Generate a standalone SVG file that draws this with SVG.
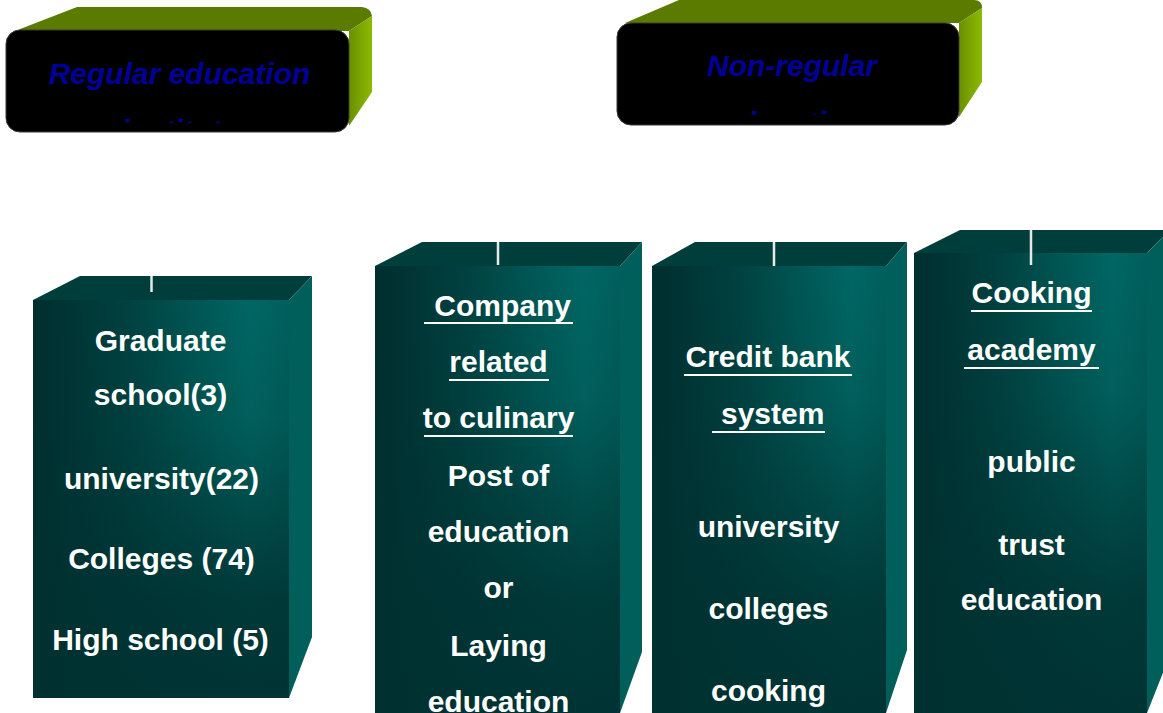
<svg xmlns="http://www.w3.org/2000/svg" width="1163" height="713" viewBox="0 0 1163 713">
  <style>
    .hdr { font-family: "Liberation Sans", Arial, sans-serif; font-size: 30px; font-weight: bold; font-style: italic; fill: #000099; text-anchor: middle; }
    .col { font-family: "Liberation Sans", Arial, sans-serif; font-size: 30px; font-weight: bold; fill: #ffffff; text-anchor: middle; }
    .ul { stroke: #ffffff; stroke-width: 2; }
    .tick { stroke: #e8e8e8; stroke-width: 2.5; }
    .blk { fill: #000000; stroke: #3a3a3a; stroke-width: 1; }
    .olive { fill: #5b7a00; }
    .ctop { fill: #003e3c; }
    .cside { fill: #005e5b; }
    .cfront { fill: url(#frontH); }
    .cshade { fill: url(#frontV); }
  </style>
  <defs>
    <linearGradient id="sideGrad" x1="0" y1="0" x2="1" y2="0">
      <stop offset="0" stop-color="#6a8f00"/>
      <stop offset="1" stop-color="#8cbb00"/>
    </linearGradient>
    <linearGradient id="frontH" x1="0" y1="0" x2="1" y2="0">
      <stop offset="0" stop-color="#002e2e"/>
      <stop offset="0.35" stop-color="#00403f"/>
      <stop offset="0.85" stop-color="#006764"/>
      <stop offset="1" stop-color="#005f5c"/>
    </linearGradient>
    <linearGradient id="frontV" x1="0" y1="0" x2="0" y2="1">
      <stop offset="0" stop-color="#003131" stop-opacity="0"/>
      <stop offset="0.3" stop-color="#003131" stop-opacity="0.15"/>
      <stop offset="0.75" stop-color="#003131" stop-opacity="0.85"/>
      <stop offset="1" stop-color="#003131" stop-opacity="0.95"/>
    </linearGradient>
    <clipPath id="clipA"><rect x="0" y="0" width="400" height="123"/></clipPath>
    <clipPath id="clipB"><rect x="600" y="0" width="400" height="114.5"/></clipPath>
  </defs>
  <rect x="0" y="0" width="1163" height="713" fill="#ffffff"/>

  <g id="regular">
    <path class="olive" d="M15,31 L77,7 L362,7 Q371,8 372,16 L349,31 Z"/>
    <path fill="url(#sideGrad)" d="M349,31 L372,16 L372,92 L349,126 Z"/>
    <rect class="blk" x="6" y="30" width="343" height="102" rx="14"/>
    <text class="hdr" x="179.5" y="84">Regular education</text>
    <text class="hdr" x="179.5" y="141" clip-path="url(#clipA)">institute</text>
  </g>

  <g id="nonregular">
    <path class="olive" d="M625,23 L679,0 L974,0 Q982,0 982,8 L959,23 Z"/>
    <path fill="url(#sideGrad)" d="M959,23 L982,8 L982,82 L959,117 Z"/>
    <rect class="blk" x="617" y="23" width="342" height="102" rx="14"/>
    <text class="hdr" x="792" y="76">Non-regular</text>
    <text class="hdr" x="792" y="132.5" clip-path="url(#clipB)">education</text>
  </g>

  <g id="regular-list">
    <polygon class="ctop" points="33,300 80,276 312,276 289,300"/>
    <polygon class="cside" points="289,300 312,276 312,637 289,698"/>
    <rect class="cfront" x="33" y="300" width="256" height="398"/>
    <rect class="cshade" x="33" y="300" width="256" height="398"/>
    <text class="col" x="160.5" y="351">Graduate</text>
    <text class="col" x="160.5" y="405">school(3)</text>
    <text class="col" x="161.5" y="489">university(22)</text>
    <text class="col" x="161.5" y="569">Colleges (74)</text>
    <text class="col" x="160.5" y="650">High school (5)</text>
  </g>

  <g id="company">
    <polygon class="ctop" points="375,266 422,242 642,242 620,266"/>
    <polygon class="cside" points="620,266 642,242 642,652 620,713"/>
    <rect class="cfront" x="375" y="266" width="245" height="447"/>
    <rect class="cshade" x="375" y="266" width="245" height="447"/>
    <text class="col" x="498.5" y="316" xml:space="preserve"> Company</text>
    <line class="ul" x1="424" y1="323" x2="573" y2="323"/>
    <text class="col" x="498.5" y="372">related</text>
    <line class="ul" x1="449" y1="380" x2="549" y2="380"/>
    <text class="col" x="498.5" y="428">to culinary</text>
    <line class="ul" x1="424" y1="436" x2="573" y2="436"/>
    <text class="col" x="498.5" y="486">Post of</text>
    <text class="col" x="498.5" y="542">education</text>
    <text class="col" x="498.5" y="598">or</text>
    <text class="col" x="498.5" y="656">Laying</text>
    <text class="col" x="498.5" y="712">education</text>
  </g>

  <g id="creditbank">
    <polygon class="ctop" points="652,266 695,242 907,242 886,266"/>
    <polygon class="cside" points="886,266 907,242 907,650 886,713"/>
    <rect class="cfront" x="652" y="266" width="234" height="447"/>
    <rect class="cshade" x="652" y="266" width="234" height="447"/>
    <text class="col" x="768" y="367">Credit bank</text>
    <line class="ul" x1="684" y1="375" x2="852" y2="375"/>
    <text class="col" x="768.5" y="424" xml:space="preserve"> system</text>
    <line class="ul" x1="712" y1="432" x2="825" y2="432"/>
    <text class="col" x="768.5" y="537">university</text>
    <text class="col" x="768.5" y="619">colleges</text>
    <text class="col" x="768.5" y="701">cooking</text>
  </g>

  <g id="academy">
    <polygon class="ctop" points="914,253 960,230 1170,230 1147,253"/>
    <polygon class="cside" points="1147,253 1170,230 1170,655 1147,713"/>
    <rect class="cfront" x="914" y="253" width="233" height="460"/>
    <rect class="cshade" x="914" y="253" width="233" height="460"/>
    <text class="col" x="1031.5" y="303">Cooking</text>
    <line class="ul" x1="971" y1="311" x2="1092" y2="311"/>
    <text class="col" x="1031.5" y="360">academy</text>
    <line class="ul" x1="964" y1="368" x2="1099" y2="368"/>
    <text class="col" x="1031.5" y="472">public</text>
    <text class="col" x="1031.5" y="555">trust</text>
    <text class="col" x="1031.5" y="610">education</text>
  </g>

  <g id="connectors">
    <line class="tick" x1="151.5" y1="276" x2="151.5" y2="292"/>
    <line class="tick" x1="498" y1="242" x2="498" y2="265"/>
    <line class="tick" x1="774" y1="242" x2="774" y2="266"/>
    <line class="tick" x1="1031" y1="230" x2="1031" y2="265"/>
  </g>
</svg>
